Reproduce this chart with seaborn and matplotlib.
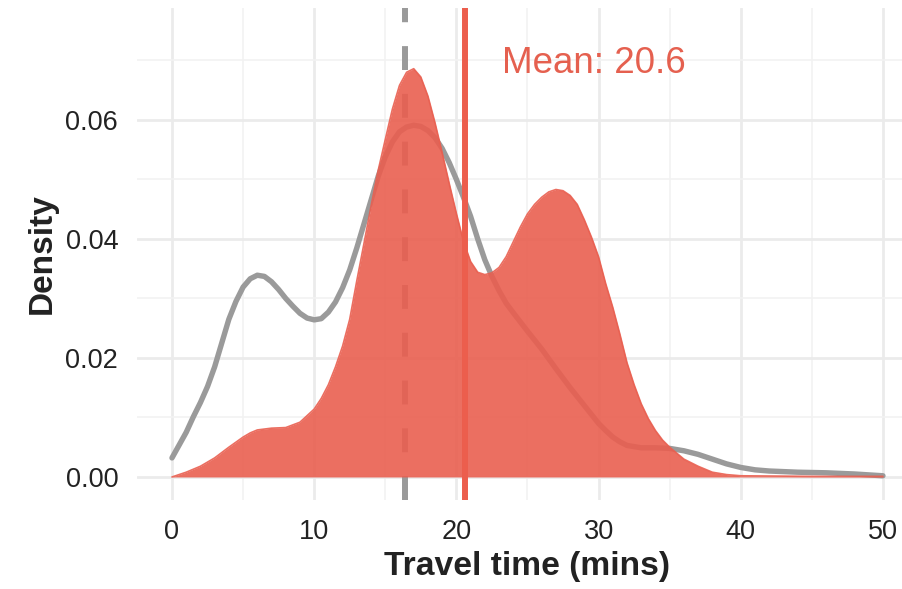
import numpy as np
import pandas as pd
import matplotlib
matplotlib.use("Agg")
import matplotlib.pyplot as plt
import seaborn as sns

# densidad de todos los viajes (linea gris)
x_gris = [0, 1, 1.5, 2, 2.5, 3, 3.5, 4, 4.5, 5, 5.5, 6, 6.5, 7, 7.5, 8, 8.5, 9, 9.5, 10,
          10.5, 11, 11.5, 12, 12.5, 13, 13.5, 14, 14.5, 15, 15.5, 16, 16.5, 17, 17.5, 18,
          18.5, 19, 19.5, 20, 20.5, 21, 21.5, 22, 22.5, 23, 23.5, 24, 25, 26, 27, 28, 29,
          30, 30.5, 31, 31.5, 32, 33, 34, 35, 36, 37, 38, 39, 40, 41, 42, 44, 46, 48, 50]
dens_gris = [0.0032, 0.0075, 0.0101, 0.0125, 0.0152, 0.0185, 0.0225, 0.0265, 0.0295, 0.0319,
             0.0333, 0.0339, 0.0337, 0.0328, 0.0315, 0.0300, 0.0287, 0.0275, 0.0267, 0.0264,
             0.0266, 0.0277, 0.0294, 0.0318, 0.0348, 0.0385, 0.0425, 0.0465, 0.0505, 0.0538,
             0.0563, 0.0580, 0.0588, 0.0591, 0.0589, 0.0582, 0.0570, 0.0552, 0.0528, 0.0500,
             0.0470, 0.0438, 0.0400, 0.0365, 0.0337, 0.0313, 0.0292, 0.0276, 0.0245, 0.0215,
             0.0182, 0.0150, 0.0120, 0.0090, 0.0078, 0.0067, 0.0059, 0.0053, 0.0049, 0.0049,
             0.0048, 0.0044, 0.0038, 0.0030, 0.0022, 0.0016, 0.0012, 0.0010, 0.0008, 0.0007,
             0.0005, 0.0002]

# densidad del grupo resaltado (area roja)
x_rojo = [0, 1, 2, 3, 4, 5, 5.5, 6, 7, 8, 9, 10, 10.5, 11, 11.5, 12, 12.5, 13, 13.5, 14,
          14.5, 15, 15.5, 16, 16.5, 17, 17.5, 18, 18.5, 19, 19.5, 20, 20.5, 21, 21.5, 22,
          22.5, 23, 23.5, 24, 24.5, 25, 25.5, 26, 26.5, 27, 27.5, 28, 28.5, 29, 29.5, 30,
          30.5, 31, 31.5, 32, 32.5, 33, 33.5, 34, 34.5, 35, 36, 37, 38, 39, 40, 45, 50]
dens_rojo = [0.0000, 0.0008, 0.0018, 0.0032, 0.0050, 0.0067, 0.0074, 0.0079, 0.0082, 0.0083,
             0.0092, 0.0114, 0.0132, 0.0155, 0.0185, 0.0220, 0.0265, 0.0330, 0.0392, 0.0455,
             0.0515, 0.0567, 0.0618, 0.0658, 0.0680, 0.0686, 0.0672, 0.0640, 0.0595, 0.0545,
             0.0493, 0.0443, 0.0396, 0.0362, 0.0344, 0.0340, 0.0343, 0.0352, 0.0370, 0.0395,
             0.0420, 0.0442, 0.0458, 0.0470, 0.0479, 0.0483, 0.0481, 0.0473, 0.0458, 0.0432,
             0.0403, 0.0370, 0.0325, 0.0285, 0.0240, 0.0192, 0.0155, 0.0123, 0.0098, 0.0078,
             0.0062, 0.0050, 0.0030, 0.0018, 0.0008, 0.0004, 0.0002, 0.0001, 0.0001]

mediana_gris = 16.4
media_roja = 20.6

df_gris = pd.DataFrame({"x": x_gris, "y": dens_gris})
df_rojo = pd.DataFrame({"x": x_rojo, "y": dens_rojo})

sns.set_style("white")
plt.rcParams["font.family"] = ["Liberation Sans", "DejaVu Sans"]

rojo = "#E95F50"
gris = "#9A9A9A"

fig = plt.figure(figsize=(9.02, 5.89), dpi=100)
ax = fig.add_axes([137 / 902, 1 - 500 / 589, 765 / 902, 492 / 589])

sns.lineplot(data=df_gris, x="x", y="y", color=gris, linewidth=3.9, ax=ax, zorder=2)
ax.axvline(mediana_gris, color=gris, linewidth=4.3, dashes=(4, 4), zorder=2.5)
ax.fill_between(df_rojo["x"], df_rojo["y"], color=rojo, alpha=0.9, linewidth=0, zorder=3)
sns.lineplot(data=df_rojo, x="x", y="y", color=rojo, alpha=0.9, linewidth=1.2, ax=ax, zorder=3)
ax.axvline(media_roja, color="#EC5E4D", linewidth=4.3, zorder=4)
ax.text(23.2, 0.0694, "Mean: " + str(media_roja), color="#E5604F", fontsize=26.5,
        ha="left", va="center", zorder=5)

ax.set_xlim(-2.46, 51.34)
ax.set_ylim(-0.00387, 0.0788)
ax.set_xticks([0, 10, 20, 30, 40, 50])
ax.set_xticks([5, 15, 25, 35, 45], minor=True)
ax.set_yticks([0, 0.02, 0.04, 0.06])
ax.set_yticks([0.01, 0.03, 0.05, 0.07], minor=True)
ax.set_yticklabels(["0.00", "0.02", "0.04", "0.06"])

ax.grid(which="major", color="#EBEBEB", linewidth=2.0)
ax.grid(which="minor", color="#F2F2F2", linewidth=1.2)
ax.set_axisbelow(True)
for s in ax.spines.values():
    s.set_visible(False)
ax.tick_params(which="both", length=0)
ax.tick_params(axis="x", labelsize=19.5, pad=14, labelcolor="#222222")
ax.tick_params(axis="y", labelsize=19.5, pad=13.5, labelcolor="#222222")

ax.set_xlabel("Travel time (mins)", fontsize=24.2, fontweight="bold", color="#222222")
ax.set_ylabel("Density", fontsize=24, fontweight="bold", color="#222222")
ax.xaxis.set_label_coords(0.510, -0.103)
ax.yaxis.set_label_coords(-0.103, 0.501)

fig.savefig("out.png", dpi=100)
